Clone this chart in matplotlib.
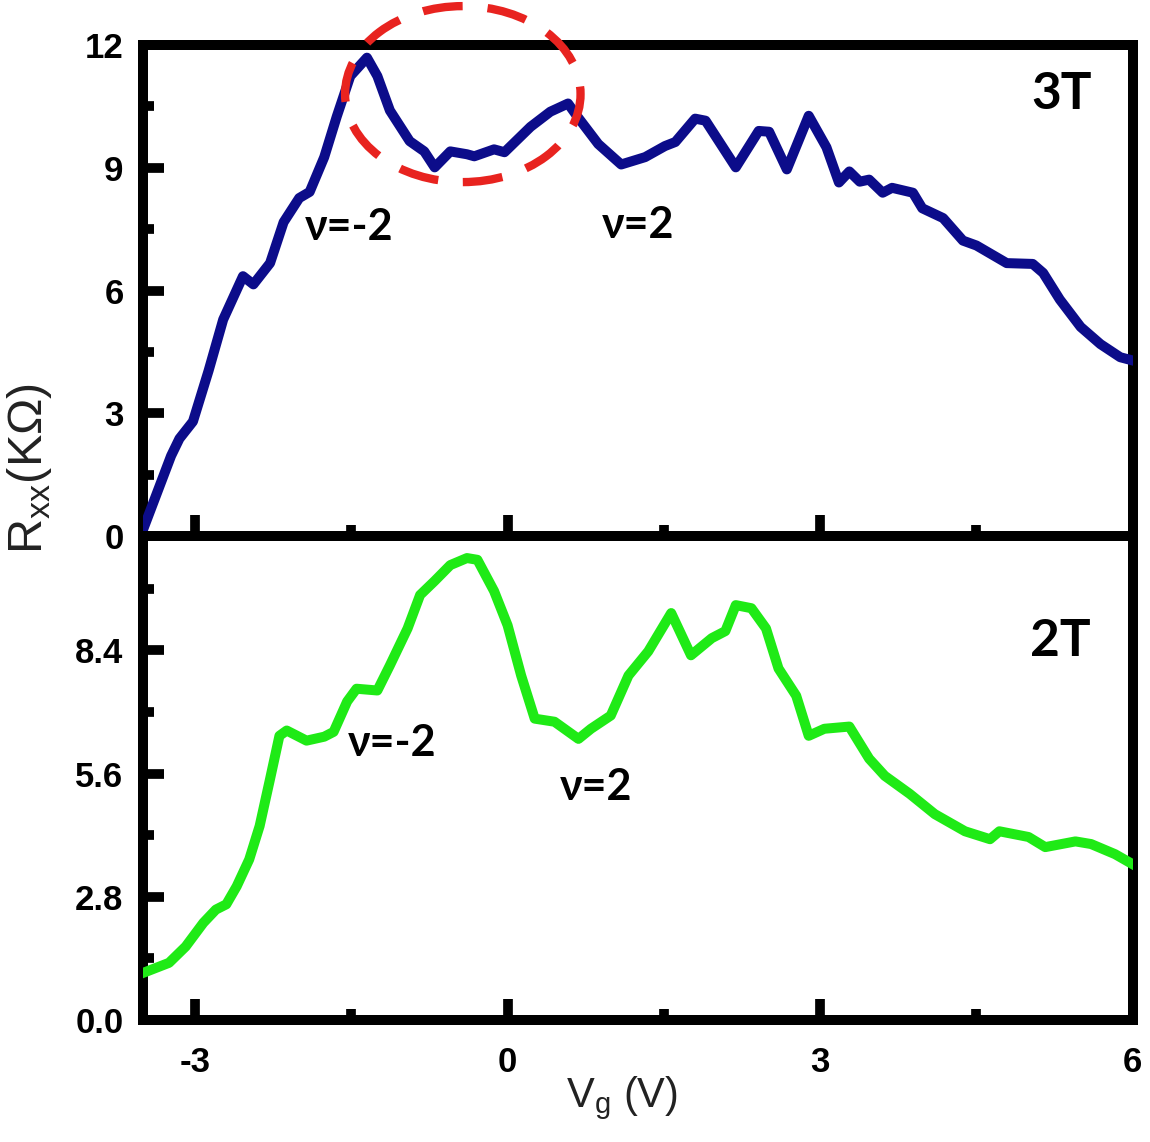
import numpy as np
import matplotlib
matplotlib.use('Agg')
import matplotlib.pyplot as plt
from matplotlib.patches import Ellipse
from matplotlib.ticker import MultipleLocator, FormatStrFormatter

# 3T trace (top panel)
vg_3t = [-3.50, -3.23, -3.15, -3.02, -2.87, -2.73, -2.54, -2.44, -2.28, -2.15, -2.00, -1.90,
         -1.76, -1.64, -1.51, -1.35, -1.25, -1.13, -0.94, -0.80, -0.70, -0.55, -0.39, -0.32,
         -0.13, -0.03, 0.22, 0.41, 0.58, 0.67, 0.87, 1.09, 1.32, 1.51, 1.61, 1.80, 1.90,
         2.19, 2.41, 2.51, 2.68, 2.89, 3.06, 3.18, 3.28, 3.38, 3.47, 3.60, 3.69, 3.89,
         3.98, 4.18, 4.37, 4.50, 4.79, 5.04, 5.14, 5.30, 5.50, 5.69, 5.88, 6.00]
r_3t = [0.15, 1.96, 2.38, 2.80, 4.04, 5.29, 6.35, 6.15, 6.67, 7.67, 8.26, 8.41,
        9.26, 10.25, 11.24, 11.69, 11.24, 10.40, 9.65, 9.40, 9.01, 9.40, 9.33, 9.28,
        9.45, 9.38, 10.00, 10.37, 10.57, 10.25, 9.58, 9.08, 9.26, 9.53, 9.63, 10.20, 10.15,
        9.01, 9.90, 9.88, 8.96, 10.27, 9.50, 8.64, 8.91, 8.66, 8.71, 8.39, 8.51, 8.39,
        8.01, 7.77, 7.22, 7.10, 6.67, 6.65, 6.43, 5.78, 5.11, 4.69, 4.37, 4.29]

# 2T trace (bottom panel)
vg_2t = [-3.50, -3.25, -3.09, -2.92, -2.80, -2.70, -2.60, -2.48, -2.38, -2.28, -2.19, -2.12,
         -1.93, -1.76, -1.67, -1.54, -1.45, -1.25, -1.13, -0.96, -0.84, -0.70, -0.55, -0.39,
         -0.29, -0.13, 0.00, 0.13, 0.26, 0.45, 0.68, 0.80, 0.99, 1.16, 1.35, 1.57, 1.76,
         1.96, 2.09, 2.19, 2.34, 2.48, 2.60, 2.77, 2.89, 3.04, 3.28, 3.47, 3.62, 3.86,
         4.10, 4.39, 4.63, 4.72, 5.00, 5.16, 5.45, 5.60, 5.83, 6.00]
r_2t = [1.07, 1.30, 1.67, 2.21, 2.51, 2.63, 3.04, 3.65, 4.41, 5.48, 6.46, 6.58,
        6.35, 6.44, 6.55, 7.24, 7.53, 7.49, 8.06, 8.90, 9.66, 9.98, 10.34, 10.50,
        10.46, 9.75, 8.97, 7.83, 6.85, 6.78, 6.39, 6.62, 6.92, 7.83, 8.38, 9.25, 8.29,
        8.68, 8.84, 9.43, 9.36, 8.90, 7.99, 7.37, 6.46, 6.62, 6.67, 5.94, 5.55, 5.14,
        4.68, 4.29, 4.11, 4.29, 4.16, 3.93, 4.06, 4.00, 3.77, 3.54]

tick_font = 'Liberation Sans'
note_font = 'Lato'

fig = plt.figure(figsize=(11.5, 11.42), dpi=100)
ax1 = fig.add_axes([0.1243, 0.5306, 0.8607, 0.4300])
ax2 = fig.add_axes([0.1243, 0.1068, 0.8607, 0.4238], sharex=ax1)

ax1.plot(vg_3t, r_3t, color='#0c0c8a', lw=7.2, solid_joinstyle='round', zorder=3)
ax2.plot(vg_2t, r_2t, color='#1fea16', lw=7.2, solid_joinstyle='round', zorder=3)

ax1.set_xlim(-3.5, 6)
ax1.set_ylim(0, 12)
ax2.set_ylim(0, 11.0)

ax1.yaxis.set_major_locator(MultipleLocator(3))
ax1.yaxis.set_minor_locator(MultipleLocator(1.5))
ax1.yaxis.set_major_formatter(FormatStrFormatter('%d'))
ax2.yaxis.set_major_locator(MultipleLocator(2.8))
ax2.yaxis.set_minor_locator(MultipleLocator(1.4))
ax2.yaxis.set_major_formatter(FormatStrFormatter('%.1f'))
ax2.xaxis.set_major_locator(MultipleLocator(3))
ax2.xaxis.set_minor_locator(MultipleLocator(1.5))
ax2.xaxis.set_major_formatter(FormatStrFormatter('%d'))

for ax in (ax1, ax2):
    for s in ax.spines.values():
        s.set_linewidth(7.2)
        s.set_color('black')
    ax.tick_params(which='major', direction='in', length=15, width=7, top=False, right=False,
                   labelsize=25, pad=14)
    ax.tick_params(which='minor', direction='in', length=8, width=7, top=False, right=False)
    for lab in ax.get_yticklabels() + ax.get_xticklabels():
        lab.set_fontfamily(tick_font)
        lab.set_fontweight('bold')
ax2.tick_params(axis='x', which='major', pad=19)
ax1.tick_params(labelbottom=False)

# annotations
kw = dict(fontsize=31, fontweight='bold', family=note_font, ha='center', va='center')
ax1.text(-1.52, 7.55, 'ν=-2', **kw)
ax1.text(1.25, 7.6, 'ν=2', **kw)
ax1.text(5.32, 10.8, '3T', fontsize=37, fontweight='bold', family=note_font, ha='center', va='center')
ax2.text(-1.11, 6.3, 'ν=-2', **kw)
ax2.text(0.85, 5.3, 'ν=2', **kw)
ax2.text(5.3, 8.6, '2T', fontsize=37, fontweight='bold', family=note_font, ha='center', va='center')

ell = Ellipse((-0.43, 10.8), 2.26, 4.3, fill=False, edgecolor='#e8231f', lw=6,
              linestyle=(0, (4.8, 3)), clip_on=False, zorder=5)
ax1.add_patch(ell)

fig.text(30 / 1150, 1 - 468 / 1142, r'R$_{\mathregular{xx}}$(KΩ)', rotation=90, ha='center', va='center',
         fontsize=35, family=tick_font, color='#222222')
fig.text(622 / 1150, 1 - 1098 / 1142, r'V$_{\mathregular{g}}$ (V)', ha='center', va='center',
         fontsize=30, family=tick_font, color='#222222')

fig.savefig('out.png', dpi=100, facecolor='white')
